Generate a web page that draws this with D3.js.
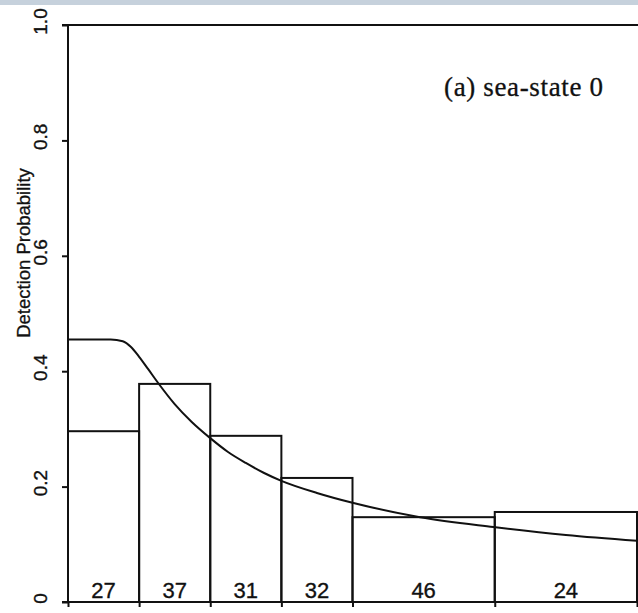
<!DOCTYPE html>
<html>
<head>
<meta charset="utf-8">
<script src="https://cdn.jsdelivr.net/npm/d3@7"></script>
<style>
  html, body { margin: 0; padding: 0; background: #fff; }
  svg { display: block; }
</style>
</head>
<body>
<svg id="chart" width="638" height="613"></svg>
<script>
// Histogram bins (distance units) and observed detection proportions
const binEdges = [0, 1, 2, 3, 4, 6, 8];
const binValues = [0.296, 0.378, 0.288, 0.215, 0.147, 0.156];
const binCounts = ["27", "37", "31", "32", "46", "24"];

// Fitted detection curve
const curveX = [0, 0.4, 0.6, 0.77, 0.886, 1.0, 1.125, 1.265, 1.5, 1.74, 2.0, 2.25, 2.5, 2.75, 3.0, 3.5, 4.0, 4.95, 5.98, 7.0, 8.0];
const curveY = [0.455, 0.455, 0.455, 0.452, 0.442, 0.425, 0.404, 0.380, 0.343, 0.312, 0.284, 0.260, 0.241, 0.224, 0.210, 0.189, 0.172, 0.147, 0.130, 0.116, 0.106];

const yTicks = [0, 0.2, 0.4, 0.6, 0.8, 1.0];
const yTickLabels = ["0", "0.2", "0.4", "0.6", "0.8", "1.0"];
const panelTitle = "(a) sea-state 0";
const yTitle = "Detection Probability";

const svg = d3.select("#chart");
const W = 638, H = 613;

// scanned page top band
svg.append("rect").attr("x", 0).attr("y", 0).attr("width", W).attr("height", 5).attr("fill", "#c6d1dc");

const x = d3.scaleLinear().domain([0, 8]).range([68, 637]);
const y = d3.scaleLinear().domain([0, 1]).range([602, 25]);

const ink = "#111";
const sw = 2;
const sans = "'Liberation Sans', Arial, sans-serif";

// Y axis
const yAxis = svg.append("g").attr("transform", `translate(${x(0)},0)`)
  .call(d3.axisLeft(y).tickValues(yTicks).tickSize(6).tickFormat(""));
yAxis.selectAll("path, line").attr("stroke", ink).attr("stroke-width", sw);
yAxis.select(".domain").attr("d", `M-6,${y(1)}H0V${y(0)}H-6`);

yAxis.selectAll(".tick").append("text")
  .attr("transform", "rotate(-90)")
  .attr("x", 4).attr("y", -21)
  .attr("text-anchor", "middle")
  .attr("fill", ink)
  .attr("stroke", ink).attr("stroke-width", 0.35)
  .style("font-family", sans)
  .style("font-size", "19px")
  .text((d, i) => yTickLabels[i]);

// Y title
svg.append("text")
  .attr("transform", `translate(30,${253}) rotate(-90)`)
  .attr("text-anchor", "middle")
  .attr("fill", ink)
  .attr("stroke", ink).attr("stroke-width", 0.3)
  .style("font-family", sans)
  .style("font-size", "18.5px")
  .text(yTitle);

// X axis (bottom) with small ticks at bin edges
const xAxis = svg.append("g").attr("transform", `translate(0,${y(0)})`)
  .call(d3.axisBottom(x).tickValues(binEdges).tickSize(5).tickFormat(""));
xAxis.selectAll("path, line").attr("stroke", ink).attr("stroke-width", sw);
xAxis.select(".domain").attr("d", `M${x(0) - 6},0H${W}`);

// Top border
svg.append("line")
  .attr("x1", x(0)).attr("x2", W)
  .attr("y1", y(1)).attr("y2", y(1))
  .attr("stroke", ink).attr("stroke-width", sw);

// Bars
const bins = binValues.map((v, i) => ({ x0: binEdges[i], x1: binEdges[i + 1], v, n: binCounts[i] }));
svg.append("g").selectAll("rect").data(bins).join("rect")
  .attr("x", d => x(d.x0))
  .attr("y", d => y(d.v))
  .attr("width", d => x(d.x1) - x(d.x0))
  .attr("height", d => y(0) - y(d.v))
  .attr("fill", "none")
  .attr("stroke", ink)
  .attr("stroke-width", sw);

// Counts
svg.append("g").selectAll("text").data(bins).join("text")
  .attr("x", d => x((d.x0 + d.x1) / 2))
  .attr("y", y(0) - 4)
  .attr("text-anchor", "middle")
  .attr("fill", ink)
  .attr("stroke", ink).attr("stroke-width", 0.35)
  .style("font-family", sans)
  .style("font-size", "22px")
  .text(d => d.n);

// Fitted curve
const pts = curveX.map((v, i) => [v, curveY[i]]);
svg.append("path")
  .datum(pts)
  .attr("d", d3.line().x(d => x(d[0])).y(d => y(d[1])).curve(d3.curveMonotoneX))
  .attr("fill", "none")
  .attr("stroke", ink)
  .attr("stroke-width", sw);

// Panel title
svg.append("text")
  .attr("x", 444).attr("y", 96)
  .attr("fill", ink)
  .attr("stroke", ink).attr("stroke-width", 0.3)
  .attr("textLength", 159)
  .attr("lengthAdjust", "spacing")
  .style("font-family", "'Liberation Serif', 'Times New Roman', serif")
  .style("font-size", "27px")
  .text(panelTitle);
</script>
</body>
</html>
